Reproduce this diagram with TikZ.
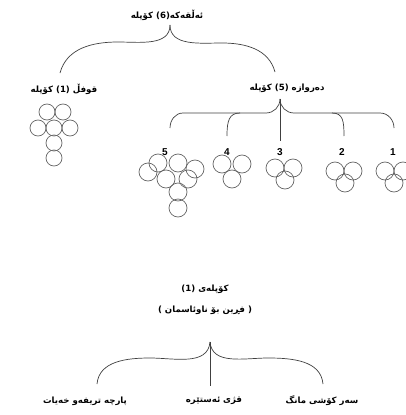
\documentclass[tikz,border=0pt]{standalone}
\usepackage{fontspec}
\newfontfamily\arabicfont[Script=Arabic]{DejaVu Sans}
\newfontfamily\chiffrefont{Liberation Sans}
\TeXXeTstate=1
\tikzset{
  titre/.style={font=\arabicfont\bfseries\fontsize{8.6}{10}\selectfont,inner sep=1pt},
  chiffre/.style={font=\chiffrefont\bfseries\fontsize{10}{12}\selectfont,inner sep=1pt},
  grain/.style={draw=black!60,line width=0.7pt},
}
\begin{document}
\begin{tikzpicture}[x=1pt,y=-1pt,line width=0.7pt,line join=round,draw=black!75]
		\useasboundingbox (0,0) rectangle (406,415);
		%titres
		\node[titre] (tout) at (167,15) {\beginR ئەڵقەکە(6) کۆپلە\endR};
		\node[titre] (qufl) at (64,89) {\beginR قوفڵ (1) کۆپلە\endR};
		\node[titre] (dar) at (287,88) {\beginR دەروازە (5) کۆپلە\endR};
		\node[titre] (kop) at (205,289) {\beginR کۆپلەی (1)\endR};
		\node[titre] (frin) at (205,310) {\beginR ( فڕین بۆ ناوئاسمان )\endR};
		\node[titre] (parcha) at (85,401) {\beginR پارچە تریفەو خەیات\endR};
		\node[titre] (qzh) at (214,401) {\beginR قژی ئەستێرە\endR};
		\node[titre] (sar) at (322,401) {\beginR سەر کۆشی مانگ\endR};
		%sommets et bouts
		\coordinate (a) at (170,25);
		\coordinate (aG) at (60,73);
		\coordinate (aD) at (275,72);
		\coordinate (b) at (280,99);
		\coordinate (c) at (210,342);
		%accolade du haut
		\draw (a) to[out=-90,in=0] (118,42) to[out=180,in=75] (aG);
		\draw (a) to[out=-90,in=180] (222,43) to[out=0,in=105] (aD);
		%accolade des cinq
		\draw (b) to[out=-90,in=0] (266,113) -- (183,113) to[out=180,in=90] (170,128);
		\draw (b) to[out=-90,in=180] (294,113) -- (380,113) to[out=0,in=90] (394,128);
		\draw (b) -- (280,141);
		\draw (240,113) .. controls (229,113) and (227,121) .. (227,136);
		\draw (332,113) .. controls (343,113) and (344,121) .. (344,136);
		%accolade du bas
		\draw (c) -- (210,386);
		\draw (c) to[out=-95,in=0] (150,358) to[out=180,in=85] (97,384);
		\draw (c) to[out=-85,in=180] (268,358) to[out=0,in=95] (323,384);
		%numeros
		\foreach \Point/\Nom in {(165,152)/5,(227,152)/4,(280,152)/3,(342,152)/2,(393,152)/1}
		\node[chiffre] at \Point {\Nom};
		%grains
		\foreach \P in {(47,112),(63,112),(38,128),(54,128),(70,128),(54,143),(54,158)}
		\draw[grain] \P circle (8pt);
		\foreach \P in {(148,172),(158,163),(178,163),(195,169),(166,179),(188,179),(178,192),(178,208),
			(222,164),(242,164),(232,179),(275,168),(293,168),(285,180),
			(335,171),(353,171),(345,183),(385,171),(403,171),(394,183)}
		\draw[grain] \P circle (9pt);
	\end{tikzpicture}
\end{document}
